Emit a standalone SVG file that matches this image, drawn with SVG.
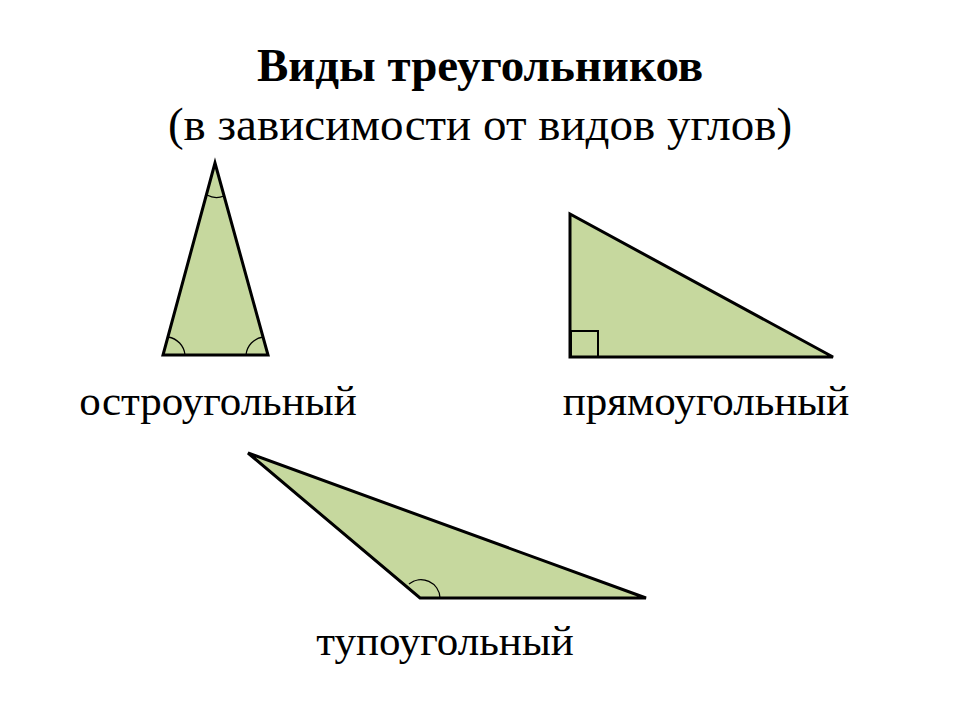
<svg xmlns="http://www.w3.org/2000/svg" width="960" height="720" viewBox="0 0 960 720">
<style>
.tri{fill:#c6d89e;stroke:#000;stroke-width:3;stroke-linejoin:miter}
.arc{fill:none;stroke:#000;stroke-width:1.3}
.t{font-family:"Liberation Serif",serif;fill:#000;text-anchor:middle}
</style>
<rect width="960" height="720" fill="#fff"/>
<text class="t" x="480" y="81" font-size="47" font-weight="bold">Виды треугольников</text>
<text class="t" x="480" y="140" font-size="47">(в зависимости от видов углов)</text>
<g id="acute">
<polygon class="tri" points="215,163 163,355 268,355"/>
<path class="arc" d="M207,195 A20,20 0 0 0 224,196"/>
<path class="arc" d="M168,337 A20,20 0 0 1 185,355"/>
<path class="arc" d="M246,355 A20,20 0 0 1 263,337"/>
<text class="t" x="218" y="415" font-size="43">остроугольный</text>
</g>
<g id="right">
<polygon class="tri" points="570,214 570,357 833,357"/>
<rect x="571" y="331" width="27" height="26" fill="none" stroke="#000" stroke-width="2"/>
<text class="t" x="706" y="415" font-size="43">прямоугольный</text>
</g>
<g id="obtuse">
<polygon class="tri" points="248,453 420,598 646,598"/>
<path class="arc" d="M409,584 A19,19 0 0 1 440,598"/>
<text class="t" x="445" y="655" font-size="43">тупоугольный</text>
</g>
</svg>
